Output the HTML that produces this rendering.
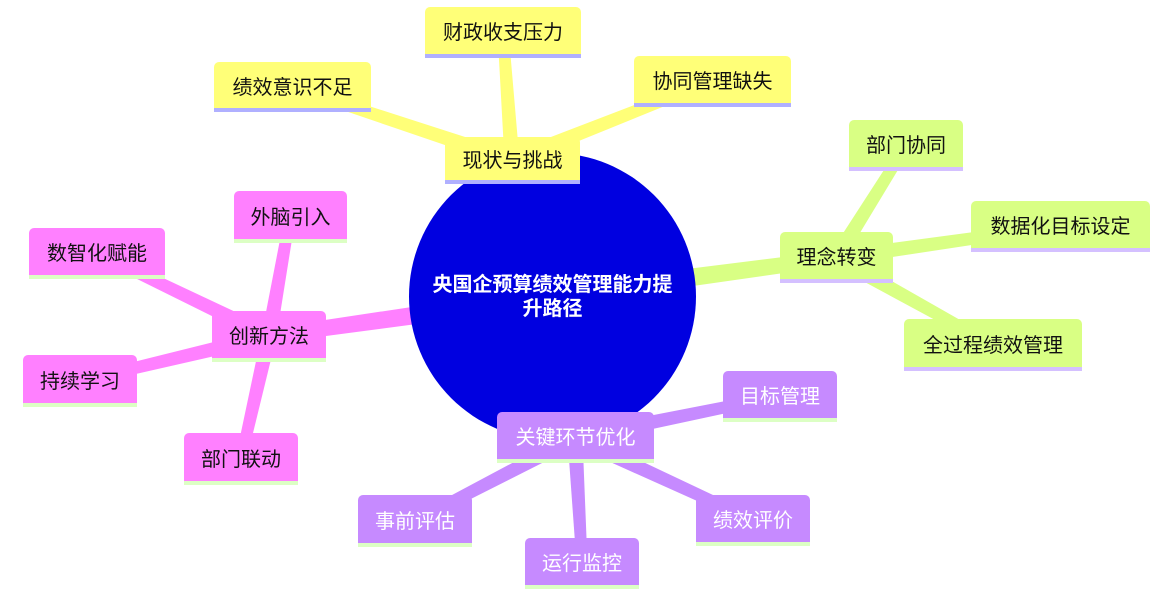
<!DOCTYPE html>
<html><head><meta charset="utf-8"><style>
body{margin:0;width:1166px;height:598px;overflow:hidden;background:#fff;font-family:"Liberation Sans","Noto Sans CJK SC",sans-serif;}
svg{position:absolute;left:0;top:0}
.n{position:absolute;box-sizing:border-box;border-radius:5px 5px 0 0;display:flex;align-items:center;justify-content:center;font-size:20px;color:#111;border-bottom:4px solid}
.y{background:#ffff78;border-color:#b0b0ff}
.g{background:#d9ff84;border-color:#d4c0ff}
.p{background:#c68aff;border-color:#dcffc4;color:#fff}
.k{background:#ff80ff;border-color:#dcffc4}
#c{position:absolute;left:409px;top:153px;width:287px;height:287px;border-radius:50%;background:#0000e0;color:#fff;font-size:20px;display:flex;align-items:center;justify-content:center;text-align:center;line-height:24px;font-weight:bold}
</style></head><body>
<svg id="s" width="1166" height="598"></svg>
<div id="c"><div style="width:280px">央国企预算绩效管理能力提<br>升路径</div></div>
<div class="n y" style="left:445px;top:137px;width:135px;height:47px">现状与挑战</div>
<div class="n y" style="left:425px;top:7px;width:156px;height:51px">财政收支压力</div>
<div class="n y" style="left:214px;top:62px;width:157px;height:50px">绩效意识不足</div>
<div class="n y" style="left:634px;top:56px;width:157px;height:51px">协同管理缺失</div>
<div class="n g" style="left:780px;top:232px;width:113px;height:51px">理念转变</div>
<div class="n g" style="left:849px;top:120px;width:114px;height:51px">部门协同</div>
<div class="n g" style="left:971px;top:201px;width:179px;height:51px">数据化目标设定</div>
<div class="n g" style="left:904px;top:319px;width:178px;height:52px">全过程绩效管理</div>
<div class="n p" style="left:497px;top:412px;width:157px;height:51px">关键环节优化</div>
<div class="n p" style="left:723px;top:371px;width:114px;height:51px">目标管理</div>
<div class="n p" style="left:696px;top:495px;width:114px;height:51px">绩效评价</div>
<div class="n p" style="left:525px;top:538px;width:114px;height:51px">运行监控</div>
<div class="n p" style="left:358px;top:495px;width:114px;height:52px">事前评估</div>
<div class="n k" style="left:212px;top:311px;width:114px;height:51px">创新方法</div>
<div class="n k" style="left:234px;top:191px;width:113px;height:52px">外脑引入</div>
<div class="n k" style="left:29px;top:228px;width:136px;height:51px">数智化赋能</div>
<div class="n k" style="left:23px;top:355px;width:114px;height:52px">持续学习</div>
<div class="n k" style="left:184px;top:433px;width:114px;height:52px">部门联动</div>
<script>
var s=document.getElementById('s'),h='';
function t(x1,y1,x2,y2,w1,w2,c){var dx=x2-x1,dy=y2-y1,l=Math.hypot(dx,dy),nx=-dy/l,ny=dx/l;
h+='<polygon fill="'+c+'" points="'+[x1+nx*w1/2,y1+ny*w1/2,x2+nx*w2/2,y2+ny*w2/2,x2-nx*w2/2,y2-ny*w2/2,x1-nx*w1/2,y1-ny*w1/2].join(',')+'"/>';}
var Y='#ffff78',G='#d9ff84',P='#c68aff',K='#ff80ff';
t(552,296,512,160,20,15,Y);t(512,160,503,32,15,11,Y);t(512,160,292,87,15,11,Y);t(512,160,712,81,15,11,Y);
t(552,296,836,258,20,15,G);t(836,258,906,146,15,11,G);t(836,258,1060,226,15,11,G);t(836,258,993,345,15,11,G);
t(552,296,575,438,20,15,P);t(575,438,780,396,15,11,P);t(575,438,753,520,15,11,P);t(575,438,582,563,15,11,P);t(575,438,415,521,15,11,P);
t(552,296,269,336,20,15,K);t(269,336,290,217,15,11,K);t(269,336,97,253,15,11,K);t(269,336,80,381,15,11,K);t(269,336,241,459,15,11,K);
s.innerHTML=h;
</script>
</body></html>
